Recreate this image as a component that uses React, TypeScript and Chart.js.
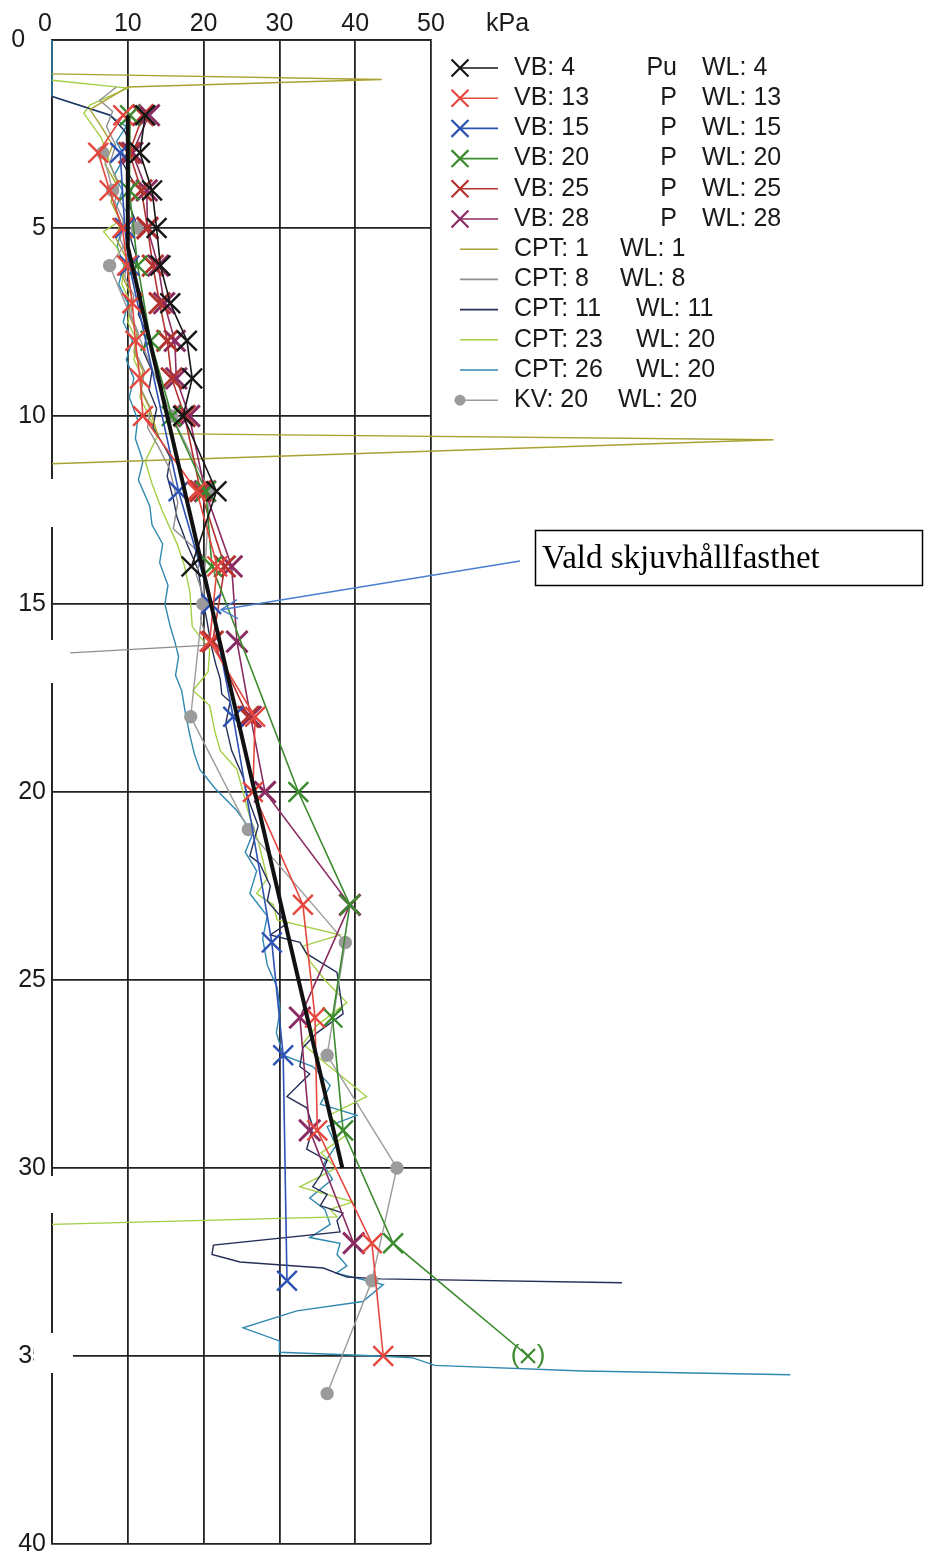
import React, { useEffect, useRef } from "react";
import { Chart, registerables } from "chart.js";
Chart.register(...registerables);

const SANS = "'Liberation Sans', Arial, sans-serif";
const SERIF = "'Liberation Serif', 'Times New Roman', serif";

// Axis ticks
const xTickValues = [0, 10, 20, 30, 40, 50];
const yTickValues = [0, 5, 10, 15, 20, 25, 30, 35, 40];
const xUnit = "kPa";

// Series as [depth (m), strength (kPa)]
const vald = [[2, 10], [5.5, 10], [30, 38.3]];

const vb4 = [[2, 12.3], [3, 11.6], [4, 13.2], [5, 13.8], [6, 14.3], [7, 15.6], [8, 17.8], [9, 18.5], [10, 17.3], [12, 21.7], [14, 18.4]];
const vb13 = [[2, 9.4], [3, 6.1], [4, 7.6], [5, 9.3], [6, 9.9], [7, 10.6], [8, 11.0], [9, 11.6], [10, 12.0], [12, 19.1], [14, 21.8], [16, 20.8], [18, 26.8], [20, 26.5], [23, 33.1], [26, 34.7], [29, 35.0], [32, 42.2], [35, 43.7]];
const vb15 = [[3, 9.0], [5, 9.6], [6, 10.2], [12, 16.7], [15, 21.0], [18, 23.9], [24, 29.0], [27, 30.5], [33, 31.0]];
const vb20 = [[2, 10.3], [4, 10.2], [6, 11.3], [8, 13.0], [10, 15.8], [12, 20.3], [14, 21.1], [20, 32.5], [23, 39.3], [26, 37.0], [29, 38.4], [32, 45.0], [35, 62.8]];
const vb25 = [[2, 12.0], [3, 10.2], [4, 11.8], [5, 12.6], [6, 13.3], [7, 14.2], [8, 15.2], [9, 15.8], [10, 17.5], [12, 19.6], [14, 22.8], [16, 21.2], [18, 25.9]];
const vb28 = [[2, 12.8], [3, 10.6], [4, 12.5], [5, 12.6], [6, 14.0], [7, 14.8], [8, 16.2], [9, 16.4], [10, 18.1], [12, 20.2], [14, 23.7], [16, 24.4], [18, 26.2], [20, 28.1], [23, 39.3], [26, 32.7], [29, 34.0], [32, 39.8]];
const kv20 = [[3, 6.7], [4, 8.0], [5, 11.2], [6, 7.6], [10, 15.8], [12, 20.8], [15, 19.9], [18, 18.3], [21, 25.9], [24, 38.7], [27, 36.3], [30, 45.5], [33, 42.2], [36, 36.3]];

const cpt1 = [[0.9, 0], [1.05, 43.5], [1.25, 10], [1.85, 5], [2.3, 6.5], [2.8, 8], [3.3, 7], [3.8, 8.4], [4.3, 7.8], [4.8, 9], [5.3, 8.5], [5.8, 9.8], [6.3, 9.3], [6.8, 10.5], [7.3, 10.1], [7.8, 11.2], [8.3, 10.8], [8.8, 12], [9.3, 11.7], [9.8, 12.9], [10.2, 13.5], [10.47, 13.9], [10.63, 95.2], [11.27, 0]];
const cpt8 = [[1.25, 8.5], [1.6, 6.3], [1.9, 8.0], [2.3, 7.2], [2.8, 8.4], [3.3, 7.6], [3.8, 8.8], [4.3, 8.3], [4.8, 9.4], [5.3, 9.0], [5.8, 10.0], [6.3, 9.6], [6.8, 10.8], [7.3, 10.4], [7.8, 11.4], [8.3, 11.0], [8.8, 12.2], [9.3, 11.8], [9.8, 13.0], [10.3, 12.6], [10.8, 14.0], [11.4, 15.5], [12.3, 16.6], [13.0, 16.0], [13.7, 19.8], [14.2, 19.0], [14.8, 20.0], [15.4, 19.6], [15.8, 20.2], [16.1, 20.0], [16.3, 2.4]];
const cpt11 = [[1.5, 0], [2.0, 7.7], [2.4, 9.5], [2.8, 10.5], [3.3, 9.4], [3.8, 10.8], [4.3, 10.0], [4.8, 11.0], [5.3, 10.4], [5.8, 11.2], [6.3, 10.8], [6.8, 11.8], [7.3, 11.4], [7.8, 12.5], [8.3, 12.1], [8.8, 13.2], [9.3, 12.8], [9.8, 13.8], [10.3, 13.3], [10.8, 14.8], [11.1, 15.6], [11.6, 15.2], [12.2, 16.0], [12.7, 16.5], [13.4, 17.8], [14.1, 19.3], [14.8, 19.8], [15.4, 20.4], [16.1, 21.0], [16.6, 21.6], [17.0, 22.2], [17.4, 22.4], [17.6, 23.5], [18.2, 22.9], [18.9, 23.7], [19.6, 25.2], [20.05, 25.7], [20.3, 26.1], [20.9, 27.2], [21.7, 26.1], [21.9, 27.4], [22.5, 28.8], [22.9, 28.4], [23.5, 31.0], [23.8, 28.8], [24.0, 32.7], [24.3, 33.6], [24.8, 37.6], [25.9, 38.4], [26.4, 35.0], [26.8, 33.1], [27.3, 32.7], [27.5, 34.0], [28.1, 31.0], [28.4, 33.6], [28.9, 34.4], [29.5, 33.6], [29.8, 36.3], [30.2, 35.4], [30.5, 34.4], [30.7, 36.3], [31.0, 35.4], [31.2, 38.4], [31.4, 37.6], [31.7, 38.0], [32.05, 21.3], [32.3, 21.1], [32.5, 24.8], [32.66, 35.8], [32.9, 38.9], [32.95, 43.3], [33.05, 75.2]];
const cpt23 = [[1.07, 0], [1.28, 10], [1.73, 5], [1.95, 4.2], [2.6, 6.5], [3.2, 7.5], [3.8, 8.6], [4.3, 7.8], [4.8, 9], [5.1, 6.8], [5.5, 8.5], [6.0, 9.6], [6.5, 9.2], [7.0, 10.4], [7.5, 10], [8.0, 11.2], [8.5, 10.8], [9.0, 12], [9.5, 11.6], [10.0, 12.8], [10.5, 14], [11.2, 12.3], [11.8, 13.2], [12.5, 14.5], [13.4, 16.5], [14.0, 17.5], [14.7, 18.2], [15.6, 18.5], [16.2, 20.8], [16.8, 20.6], [17.3, 18.6], [17.7, 20.8], [18.4, 21.5], [18.9, 22.2], [19.4, 24.4], [20.0, 25.2], [20.6, 26], [21.3, 27.2], [22.3, 28.4], [22.7, 27], [23.0, 29.2], [23.4, 29.7], [23.8, 38], [24.1, 33.1], [24.5, 34], [25.0, 36], [25.6, 38.9], [26.2, 35], [26.7, 33.1], [27.2, 36], [28.1, 41.5], [28.6, 36.5], [29.1, 39], [29.6, 35.5], [30.0, 37.5], [30.5, 32.7], [30.9, 39.7], [31.1, 36.7], [31.3, 37.6], [31.5, 0]];
const cpt26 = [[0, 0], [1.5, 0], [2.0, 7.5], [2.3, 9.8], [2.7, 8.5], [3.1, 9.6], [3.6, 8.2], [4.0, 9.3], [4.5, 8.4], [5.0, 9.2], [5.5, 8.6], [6.0, 9.5], [6.5, 8.8], [7.0, 10], [7.5, 9.4], [8.0, 10.6], [8.5, 9.8], [9.0, 10.8], [9.5, 10.2], [10.1, 11.3], [10.6, 11], [11.2, 12], [11.7, 11.4], [12.4, 12.9], [12.9, 13.2], [13.4, 14.6], [13.9, 14.2], [14.5, 15.3], [15.0, 14.9], [15.6, 15.6], [16.0, 16.2], [16.4, 16.7], [16.9, 16.3], [17.3, 17.1], [17.9, 17.6], [18.5, 18.2], [19.0, 18.8], [19.4, 19.5], [19.9, 21.5], [20.5, 24.4], [21.1, 26.5], [21.6, 25.5], [22.1, 27], [22.7, 26.1], [23.3, 28.4], [23.9, 27.8], [24.6, 28.4], [25.2, 29.7], [25.8, 30.1], [26.4, 29.6], [27.0, 30.5], [27.3, 34.4], [27.8, 36.7], [28.3, 35.4], [28.6, 40.2], [28.9, 36.3], [29.4, 37.5], [29.9, 35.8], [30.3, 37], [30.8, 34], [31.1, 36], [31.5, 36.7], [31.85, 34], [32.0, 38], [32.3, 37.6], [32.6, 38.9], [32.8, 37.5], [33.1, 43.7], [33.55, 41], [33.8, 32.3], [34.25, 25.2], [34.6, 30], [34.9, 30], [35.0, 43], [35.05, 47.6], [35.25, 50.5], [35.4, 70], [35.5, 97.4]];

// Legend texts
const legendNames = ["VB: 4", "VB: 13", "VB: 15", "VB: 20", "VB: 25", "VB: 28", "CPT: 1", "CPT: 8", "CPT: 11", "CPT: 23", "CPT: 26", "KV: 20"];
const legendTypes = ["Pu", "P", "P", "P", "P", "P", "", "", "", "", "", ""];
const legendWL = ["WL: 4", "WL: 13", "WL: 15", "WL: 20", "WL: 25", "WL: 28", "WL: 1", "WL: 8", "WL: 11", "WL: 20", "WL: 20", "WL: 20"];

const annotationText = "Vald skjuvhållfasthet";
const annotationTarget = [15.15, 22.3]; // depth, kPa

const toXY = (s: number[][]) => s.map(([d, v]) => ({ x: v, y: d }));

const vbSet = (label: string, s: number[][], color: string, r = 14, bw = 2.4) => ({
  label, data: toXY(s), showLine: true, borderColor: color, backgroundColor: color,
  borderWidth: 1.6, pointStyle: "crossRot", pointRadius: r, pointHoverRadius: r,
  pointBorderWidth: bw, clip: false,
});
const cptSet = (label: string, s: number[][], color: string) => ({
  label, data: toXY(s), showLine: true, borderColor: color, backgroundColor: color,
  borderWidth: 1.4, pointRadius: 0, pointHoverRadius: 0, clip: false,
});

const wlX = [702, 702, 702, 702, 702, 702, 620, 620, 636, 636, 636, 618];

const overlay = {
  id: "overlay",
  afterDatasetsDraw(chart: any) {
    const ctx = chart.ctx;
    const xs = chart.scales.x, ys = chart.scales.y;
    ctx.save();
    // last VB 20 value lies outside the grid: draw its cross and brackets
    const last = vb20[vb20.length - 1];
    const px = xs.getPixelForValue(last[1]);
    const py = ys.getPixelForValue(last[0]);
    const h = 7;
    ctx.strokeStyle = "#3b8b2e";
    ctx.lineWidth = 2.2;
    ctx.beginPath();
    ctx.moveTo(px - h, py - h); ctx.lineTo(px + h, py + h);
    ctx.moveTo(px - h, py + h); ctx.lineTo(px + h, py - h);
    ctx.stroke();
    ctx.fillStyle = "#3b8b2e";
    ctx.font = `26px ${SANS}`;
    ctx.textAlign = "center";
    ctx.textBaseline = "middle";
    ctx.fillText("(", px - 13, py);
    ctx.fillText(")", px + 13, py);
    // scan blanks on the left axis
    ctx.fillStyle = "#ffffff";
    ctx.fillRect(48, 479, 9, 48);
    ctx.fillRect(48, 640, 9, 43);
    ctx.fillRect(42, 1176, 15, 37);
    ctx.fillRect(34, 1333, 39, 40);
    ctx.restore();
  },
  afterDraw(chart: any) {
    const ctx = chart.ctx;
    const xs = chart.scales.x, ys = chart.scales.y;
    ctx.save();
    // unit
    ctx.fillStyle = "#1a1a1a";
    ctx.font = `25px ${SANS}`;
    ctx.textBaseline = "middle";
    ctx.textAlign = "left";
    ctx.fillText(xUnit, 486, 24);
    // legend
    legendNames.forEach((name, i) => {
      const ds = chart.data.datasets.find((d: any) => d.label === name);
      const y = 68 + i * 30.2;
      const color = ds.borderColor;
      ctx.strokeStyle = color;
      ctx.lineWidth = 1.6;
      ctx.beginPath();
      ctx.moveTo(460, y);
      ctx.lineTo(498, y);
      ctx.stroke();
      if (ds.pointStyle === "crossRot") {
        const h = 0.707 * 12;
        ctx.lineWidth = 2.2;
        ctx.beginPath();
        ctx.moveTo(460 - h, y - h); ctx.lineTo(460 + h, y + h);
        ctx.moveTo(460 - h, y + h); ctx.lineTo(460 + h, y - h);
        ctx.stroke();
      } else if (ds.pointRadius > 0) {
        ctx.fillStyle = color;
        ctx.beginPath();
        ctx.arc(460, y, 5.5, 0, Math.PI * 2);
        ctx.fill();
      }
      ctx.fillStyle = "#1a1a1a";
      ctx.font = `25px ${SANS}`;
      ctx.textAlign = "left";
      ctx.fillText(name, 514, y);
      if (legendTypes[i]) {
        ctx.textAlign = "right";
        ctx.fillText(legendTypes[i], 677, y);
      }
      ctx.textAlign = "left";
      ctx.fillText(legendWL[i], wlX[i], y);
    });
    // annotation box
    ctx.strokeStyle = "#000";
    ctx.lineWidth = 1.5;
    ctx.strokeRect(535.5, 530.5, 387, 55);
    ctx.fillStyle = "#000";
    ctx.font = `33px ${SERIF}`;
    ctx.textAlign = "left";
    ctx.textBaseline = "middle";
    ctx.fillText(annotationText, 542, 559);
    // arrow
    const tx = xs.getPixelForValue(annotationTarget[1]);
    const ty = ys.getPixelForValue(annotationTarget[0]);
    ctx.strokeStyle = "#4a7fd0";
    ctx.lineWidth = 1.5;
    ctx.beginPath();
    ctx.moveTo(520, 561);
    ctx.lineTo(tx, ty);
    ctx.moveTo(tx + 16, ty - 10);
    ctx.lineTo(tx, ty);
    ctx.lineTo(tx + 17, ty + 9);
    ctx.stroke();
    ctx.restore();
  },
};

export default function App() {
  const ref = useRef<HTMLCanvasElement>(null);
  useEffect(() => {
    if (!ref.current) return;
    const datasets: any[] = [
      { label: "Vald", data: toXY(vald), showLine: true, borderColor: "#111111", backgroundColor: "#111111", borderWidth: 4, pointRadius: 0, pointHoverRadius: 0, clip: false },
      vbSet("VB: 4", vb4, "#161616"),
      vbSet("VB: 13", vb13, "#e4473d"),
      vbSet("VB: 15", vb15, "#2d52b4"),
      vbSet("VB: 20", vb20, "#3b8b2e"),
      vbSet("VB: 25", vb25, "#b2332f", 15, 3),
      vbSet("VB: 28", vb28, "#8a2c62", 15, 3),
      { label: "KV: 20", data: toXY(kv20), showLine: true, borderColor: "#9b9b9b", backgroundColor: "#9b9b9b", borderWidth: 1.4, pointStyle: "circle", pointRadius: 6, pointHoverRadius: 6, clip: false },
      cptSet("CPT: 1", cpt1, "#a9a232"),
      cptSet("CPT: 8", cpt8, "#8f8f8f"),
      cptSet("CPT: 11", cpt11, "#262f58"),
      cptSet("CPT: 23", cpt23, "#a3cf45"),
      cptSet("CPT: 26", cpt26, "#2f88b0"),
    ];
    const chart = new Chart(ref.current, {
      type: "scatter",
      data: { datasets },
      options: {
        responsive: false,
        animation: false,
        events: [],
        layout: { padding: { left: 0, top: 0, right: 497, bottom: 15 } },
        plugins: { legend: { display: false }, tooltip: { enabled: false } },
        scales: {
          x: {
            type: "linear",
            position: "top",
            min: 0,
            max: 50,
            afterBuildTicks: (s: any) => { s.ticks = xTickValues.map((v) => ({ value: v })); },
            afterFit: (s: any) => { s.height = 40; },
            ticks: {
              autoSkip: false, maxRotation: 0, padding: 1, color: "#1a1a1a",
              font: { family: SANS, size: 25 },
              callback: (v: any) => (v === 0 ? "0\u00a0\u00a0" : String(v)),
            },
            grid: { color: "#222", lineWidth: 1.8, drawTicks: false },
            border: { display: true, color: "#222", width: 1.8 },
          },
          y: {
            type: "linear",
            reverse: true,
            min: 0,
            max: 40,
            afterBuildTicks: (s: any) => { s.ticks = yTickValues.map((v) => ({ value: v })); },
            afterFit: (s: any) => { s.width = 52; },
            ticks: {
              autoSkip: false, padding: 6, color: "#1a1a1a",
              font: { family: SANS, size: 25 },
              callback: (v: any) => (v === 0 ? "0\u00a0\u00a0\u00a0" : String(v)),
            },
            grid: { color: "#222", lineWidth: 1.8, drawTicks: false },
            border: { display: true, color: "#222", width: 1.8 },
          },
        },
      },
      plugins: [overlay],
    } as any);
    return () => chart.destroy();
  }, []);
  return (
    <canvas
      ref={ref}
      width={928}
      height={1565}
      style={{ position: "absolute", left: 0, top: 0, display: "block", background: "#fff" }}
    />
  );
}
